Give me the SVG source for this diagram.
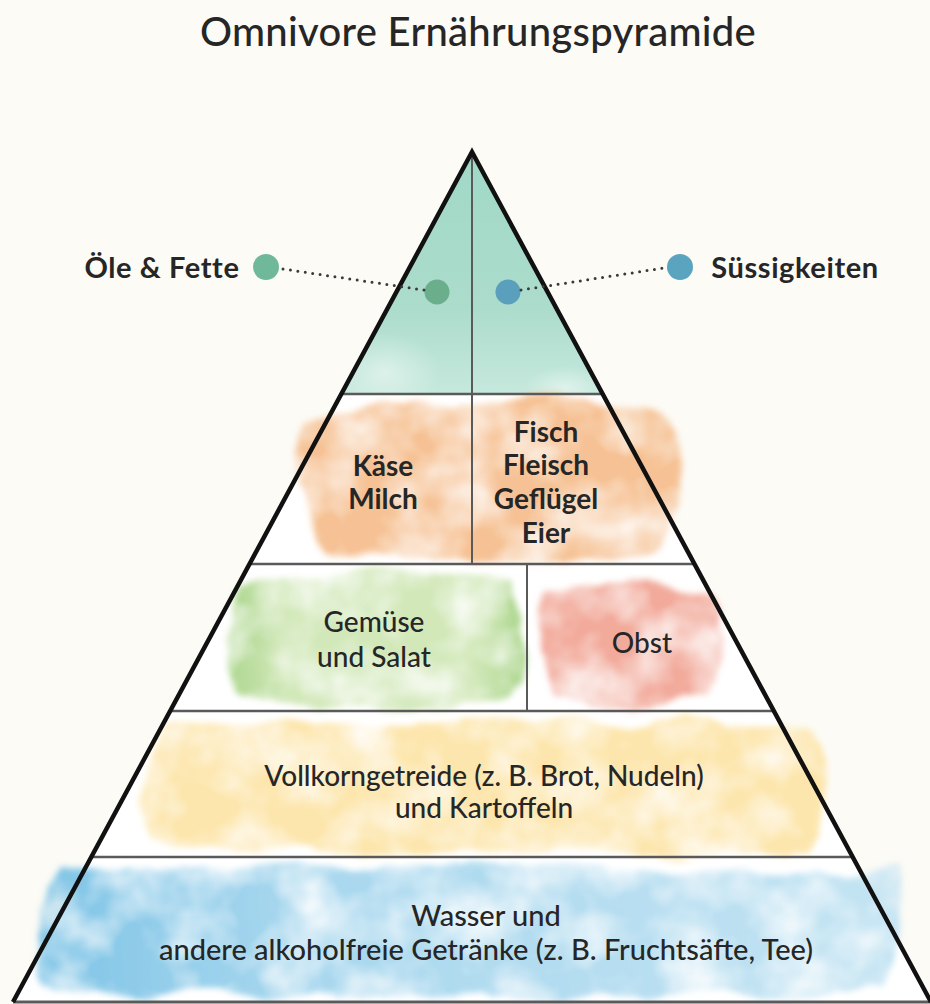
<svg xmlns="http://www.w3.org/2000/svg" width="930" height="1004" viewBox="0 0 930 1004">
<defs>
<style>
.t{font-family:Lato,"Noto Sans","Liberation Sans",sans-serif;fill:#262626;text-anchor:middle}
.h{font-size:40px;font-weight:500;letter-spacing:0.3px}
.lb{font-size:29px;font-weight:700;letter-spacing:0.6px}
.b{font-size:28px;font-weight:700}
.m{font-size:28px;font-weight:500}
.side{fill:none;stroke:#111;stroke-width:4.5;stroke-linejoin:miter}
.sep{stroke:#5a5a5a;stroke-width:2.5}
.div{stroke:#5a5a5a;stroke-width:2}
.dot{fill:none;stroke:#3a3a3a;stroke-width:3;stroke-linecap:round;stroke-dasharray:0 7.5}
</style>
<filter id="wc" x="-15%" y="-20%" width="130%" height="140%">
<feTurbulence type="fractalNoise" baseFrequency="0.012" numOctaves="4" seed="4" result="n"/>
<feDisplacementMap in="SourceGraphic" in2="n" scale="30" xChannelSelector="R" yChannelSelector="G" result="d"/>
<feGaussianBlur in="d" stdDeviation="3" result="db"/>
<feTurbulence type="fractalNoise" baseFrequency="0.018" numOctaves="3" seed="11" result="n2"/>
<feColorMatrix in="n2" type="matrix" values="0 0 0 0 1  0 0 0 0 1  0 0 0 0 1  1.6 0 0 0 -0.05" result="a"/>
<feComposite in="db" in2="a" operator="in"/>
</filter>
<linearGradient id="mint" x1="0" y1="0" x2="0" y2="1">
<stop offset="0" stop-color="#a0d8c6"/>
<stop offset="0.65" stop-color="#acdccc"/>
<stop offset="1" stop-color="#c6e9dd"/>
</linearGradient>
<radialGradient id="fadeL" cx="0.5" cy="0.5" r="0.5">
<stop offset="0" stop-color="#ffffff" stop-opacity="0.45"/>
<stop offset="1" stop-color="#ffffff" stop-opacity="0"/>
</radialGradient>
<linearGradient id="blueG" x1="0" y1="0" x2="1" y2="0">
<stop offset="0" stop-color="#7fc4e6"/>
<stop offset="0.3" stop-color="#a8d7ee"/>
<stop offset="1" stop-color="#c4e4f3"/>
</linearGradient>
<linearGradient id="greenG" x1="0" y1="0" x2="1" y2="0">
<stop offset="0" stop-color="#acd68e"/>
<stop offset="0.15" stop-color="#d2e8b9"/>
<stop offset="0.85" stop-color="#d2e8b9"/>
<stop offset="1" stop-color="#acd68e"/>
</linearGradient>
<clipPath id="tri"><polygon points="472,152 341,394 603,394"/></clipPath>
</defs>
<rect width="930" height="1004" fill="#fcfbf6"/>
<polygon points="472,152 13,1002 931,1002" fill="#ffffff"/>

<g id="title"><text class="t h" x="478" y="46">Omnivore Ernährungspyramide</text></g>

<g id="tier1">
<g clip-path="url(#tri)">
<polygon points="472,152 341,394 603,394" fill="url(#mint)"/>
<ellipse cx="385" cy="372" rx="55" ry="40" fill="url(#fadeL)"/>
<ellipse cx="565" cy="388" rx="40" ry="22" fill="url(#fadeL)"/>
</g>
<line class="div" x1="472" y1="155" x2="472" y2="394"/>
</g>

<g id="oele">
<circle cx="266" cy="267" r="13" fill="#6fb899"/>
<circle cx="437" cy="292" r="12.5" fill="#6aae8c"/>
<text class="t lb" x="162" y="278">Öle &amp; Fette</text>
</g>
<g id="suess">
<circle cx="680" cy="267" r="13" fill="#5aa4c0"/>
<circle cx="508" cy="292" r="12.5" fill="#5a9fbb"/>
<text class="t lb" x="795" y="278">Süssigkeiten</text>
</g>

<g id="tier2">
<path d="M305,425 C325,400 610,394 655,410 C688,428 690,505 658,546 C600,566 360,563 325,548 C296,520 290,455 305,425 Z" fill="#f6c295" filter="url(#wc)"/>
<line class="div" x1="472" y1="394" x2="472" y2="564"/>
<text class="t b" x="383" y="476">Käse</text>
<text class="t b" x="383" y="509">Milch</text>
<text class="t b" x="546" y="442">Fisch</text>
<text class="t b" x="546" y="475">Fleisch</text>
<text class="t b" x="546" y="509">Geflügel</text>
<text class="t b" x="546" y="543">Eier</text>
</g>

<g id="tier3">
<path d="M240,585 C280,570 480,568 513,580 C527,610 525,680 513,698 C470,710 280,710 244,698 C230,670 228,610 240,585 Z" fill="url(#greenG)" filter="url(#wc)"/>
<path d="M550,594 C590,580 698,582 720,602 C732,632 730,684 710,698 C668,710 582,710 552,698 C538,660 538,617 550,594 Z" fill="#f2aa9b" filter="url(#wc)"/>
<line class="div" x1="527" y1="564" x2="527" y2="711"/>
<text class="t m" x="374" y="632">Gemüse</text>
<text class="t m" x="374" y="667">und Salat</text>
<text class="t m" x="642" y="653">Obst</text>
</g>

<g id="tier4">
<path d="M162,730 C300,716 700,716 812,730 C836,760 832,820 812,846 C700,856 300,856 162,846 C142,810 144,760 162,730 Z" fill="#fde6ad" filter="url(#wc)"/>
<text class="t m" x="484" y="786">Vollkorngetreide (z. B. Brot, Nudeln)</text>
<text class="t m" x="484" y="818">und Kartoffeln</text>
</g>

<g id="tier5">
<path d="M62,874 C250,862 700,864 893,872 C906,910 902,960 888,990 C700,999 250,999 42,990 C28,950 42,902 62,874 Z" fill="url(#blueG)" filter="url(#wc)"/>
<text class="t m" x="486" y="926" style="font-size:29px">Wasser und</text>
<text class="t m" x="486" y="960" style="font-size:29px">andere alkoholfreie Getränke (z. B. Fruchtsäfte, Tee)</text>
</g>

<g id="pyramid">
<line class="sep" x1="341" y1="394" x2="603" y2="394"/>
<line class="sep" x1="249" y1="564" x2="695" y2="564"/>
<line class="sep" x1="170" y1="711" x2="774" y2="711"/>
<line class="sep" x1="91" y1="857" x2="853" y2="857"/>
<line class="sep" x1="13" y1="1002" x2="931" y2="1002" style="stroke-width:3"/>
<polyline class="side" points="13,1002 472,152 931,1002"/>
</g>

<g id="connectors">
<line class="dot" x1="283" y1="269" x2="424" y2="290"/>
<line class="dot" x1="521" y1="290" x2="664" y2="268"/>
</g>
</svg>
